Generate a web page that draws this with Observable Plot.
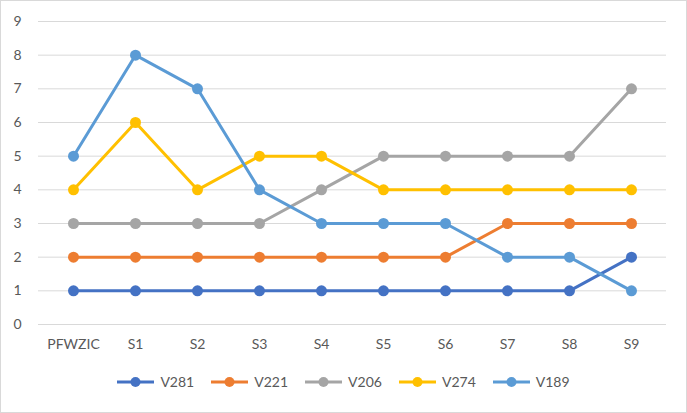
<!DOCTYPE html>
<html><head><meta charset="utf-8">
<script src="https://cdn.jsdelivr.net/npm/d3@7"></script>
<script src="https://cdn.jsdelivr.net/npm/@observablehq/plot@0.6"></script>
<style>
body{margin:0;background:#fff;}
#chart{width:687px;height:413px;box-sizing:border-box;border:1px solid #d9d9d9;background:#fff;font-family:Lato,"Open Sans",sans-serif;}
#legend{height:52px;display:flex;justify-content:center;align-items:flex-start;padding-top:14px;box-sizing:border-box;gap:17px;}
.item{display:flex;align-items:center;font-size:14px;color:#595959;line-height:16px;}
.item svg{margin-right:6px;}
</style></head>
<body>
<div id="chart"><div id="plot"></div><div id="legend"></div></div>
<script>
const categories = ["PFWZIC","S1","S2","S3","S4","S5","S6","S7","S8","S9"];
const seriesNames = ["V281","V221","V206","V274","V189"];
const seriesColors = ["#4472C4","#ED7D31","#A5A5A5","#FFC000","#5B9BD5"];
const V281 = [1,1,1,1,1,1,1,1,1,2];
const V221 = [2,2,2,2,2,2,2,3,3,3];
const V206 = [3,3,3,3,4,5,5,5,5,7];
const V274 = [4,6,4,5,5,4,4,4,4,4];
const V189 = [5,8,7,4,3,3,3,2,2,1];
const yTicks = [0,1,2,3,4,5,6,7,8,9];

const allValues = [V281,V221,V206,V274,V189];
const data = [];
seriesNames.forEach((s,i)=>categories.forEach((c,j)=>data.push({series:s,cat:c,value:allValues[i][j]})));

const plot = Plot.plot({
  width: 685, height: 359,
  marginLeft: 37, marginRight: 20, marginTop: 20, marginBottom: 36,
  style: {fontFamily: "Lato, 'Open Sans', sans-serif", fontSize: "14px", color: "#595959", background: "#fff"},
  x: {type: "point", domain: categories, padding: 0.5, label: null},
  y: {domain: [0,9], ticks: yTicks, label: null},
  color: {domain: seriesNames, range: seriesColors},
  marks: [
    Plot.ruleY(yTicks, {stroke: "#d9d9d9", strokeWidth: 1}),
    Plot.axisY({ticks: yTicks, tickSize: 0, tickPadding: 17, fontSize: 14, fill: "#595959"}),
    Plot.axisX({tickSize: 0, tickPadding: 15, fontSize: 14, fill: "#595959"}),
    Plot.line(data, {x: "cat", y: "value", stroke: "series", z: "series", strokeWidth: 3, curve: "linear"}),
    Plot.dot(data, {x: "cat", y: "value", fill: "series", r: 5.5, stroke: null})
  ]
});
document.getElementById("plot").appendChild(plot);

const legend = document.getElementById("legend");
seriesNames.forEach((s,i)=>{
  const d = document.createElement("div");
  d.className = "item";
  d.innerHTML = `<svg width="37" height="12"><line x1="0" x2="37" y1="6" y2="6" stroke="${seriesColors[i]}" stroke-width="3"/><circle cx="18.5" cy="6" r="5" fill="${seriesColors[i]}"/></svg><span>${s}</span>`;
  legend.appendChild(d);
});
</script>
</body></html>
